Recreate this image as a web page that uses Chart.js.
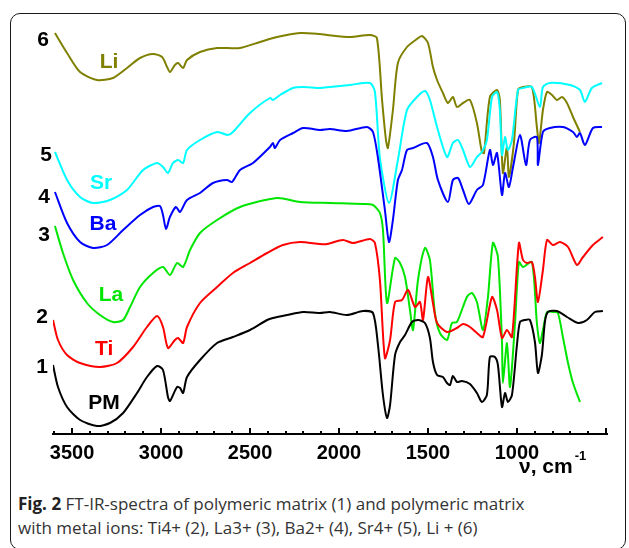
<!DOCTYPE html>
<html>
<head>
<meta charset="utf-8">
<script src="https://cdn.jsdelivr.net/npm/chart.js@4.4.0/dist/chart.umd.min.js"></script>
<style>
  html, body { margin: 0; padding: 0; background: #fff; }
  body { width: 629px; height: 548px; position: relative; overflow: hidden; }
  #frame { position: absolute; left: 10px; top: 13px; width: 616px; height: 537px;
           border: 1.5px solid #1a1a1a; border-radius: 10px; box-sizing: border-box; }
  #wrap { position: absolute; left: 0; top: 0; width: 629px; height: 480px; }
  #caption { position: absolute; left: 18px; top: 492px; font-family: 'Open Sans';
             font-size: 17px; line-height: 24px; color: #333; white-space: nowrap; }
  #caption b { color: #222; }
</style>
</head>
<body>
<div id="frame"></div>
<div id="wrap"><canvas id="myChart" width="629" height="480"></canvas></div>
<div id="caption"><b>Fig. 2</b> FT-IR-spectra of polymeric matrix (1) and polymeric matrix<br>with metal ions: Ti4+ (2), La3+ (3), Ba2+ (4), Sr4+ (5), Li + (6)</div>
<script>
'use strict';

//Wavenumbers (cm-1) and transmittance (curves are stacked, arbitrary units)
var pmWave = [3607, 3579, 3528, 3455, 3360, 3287, 3213, 3135, 3079, 3022, 2989, 2961, 2950, 2910, 2893, 2876, 2854, 2781, 2685, 2596, 2500, 2404, 2371, 2292, 2202, 2107, 2051, 1955, 1865, 1809, 1781, 1753, 1730, 1713, 1685, 1657, 1629, 1590, 1556, 1517, 1489, 1472, 1449, 1416, 1393, 1376, 1360, 1337, 1309, 1264, 1225, 1197, 1169, 1152, 1124, 1107, 1084, 1067, 1051, 1028, 1000, 983, 955, 927, 899, 882, 860, 843, 826, 775, 719, 657, 607, 562, 517];
var pmLevel = [69, 47, 27, 14, 8, 11, 21, 41, 57, 68, 64, 37, 33, 47, 46, 41, 57, 74, 91, 97, 104, 114, 116, 119, 122, 121, 122, 119, 123, 121, 89, 39, 16, 29, 79, 92, 99, 112, 114, 111, 96, 72, 59, 57, 51, 49, 58, 52, 53, 50, 41, 32, 39, 77, 77, 69, 27, 41, 32, 39, 89, 112, 114, 114, 92, 61, 79, 112, 122, 123, 117, 111, 114, 122, 123];

var tiWave = [3607, 3579, 3528, 3455, 3343, 3247, 3157, 3079, 3022, 2989, 2961, 2922, 2904, 2876, 2854, 2781, 2685, 2596, 2500, 2404, 2315, 2219, 2107, 2067, 1978, 1921, 1826, 1798, 1770, 1742, 1713, 1685, 1646, 1612, 1573, 1545, 1528, 1500, 1472, 1449, 1393, 1337, 1303, 1264, 1225, 1191, 1140, 1112, 1084, 1056, 1028, 989, 966, 944, 916, 899, 882, 854, 831, 798, 758, 713, 663, 629, 573, 517];
var tiLevel = [114, 94, 79, 71, 67, 71, 87, 107, 118, 107, 86, 94, 96, 91, 107, 131, 147, 161, 171, 181, 189, 192, 190, 190, 194, 191, 195, 191, 154, 76, 94, 132, 134, 144, 127, 132, 114, 157, 131, 111, 102, 106, 110, 107, 101, 97, 137, 124, 96, 104, 97, 191, 174, 171, 172, 157, 132, 164, 194, 189, 192, 187, 169, 177, 189, 197];

var laWave = [3596, 3551, 3494, 3416, 3343, 3270, 3213, 3174, 3118, 3045, 2989, 2950, 2910, 2876, 2837, 2781, 2685, 2556, 2348, 2219, 2051, 1865, 1809, 1770, 1753, 1730, 1685, 1657, 1629, 1601, 1584, 1556, 1517, 1489, 1461, 1433, 1393, 1365, 1337, 1281, 1253, 1225, 1191, 1163, 1135, 1107, 1084, 1079, 1056, 1039, 1011, 989, 966, 916, 888, 871, 854, 831, 798, 770, 742, 713, 685, 646];
var laLevel = [208, 181, 154, 131, 119, 112, 114, 127, 147, 161, 167, 159, 171, 167, 184, 201, 214, 227, 236, 232, 231, 230, 229, 221, 204, 131, 176, 171, 157, 124, 104, 154, 186, 174, 121, 101, 94, 111, 112, 137, 141, 132, 104, 137, 191, 177, 91, 51, 91, 47, 111, 172, 167, 172, 111, 91, 104, 122, 122, 121, 97, 71, 51, 32];

var baWave = [3596, 3528, 3455, 3382, 3303, 3213, 3118, 3045, 3006, 2989, 2972, 2950, 2916, 2893, 2854, 2781, 2708, 2629, 2601, 2556, 2483, 2388, 2371, 2360, 2331, 2258, 2202, 2107, 2051, 1955, 1843, 1809, 1781, 1742, 1719, 1697, 1669, 1646, 1618, 1584, 1506, 1472, 1444, 1388, 1360, 1331, 1303, 1270, 1225, 1191, 1152, 1135, 1112, 1084, 1067, 1045, 1022, 983, 949, 927, 888, 882, 854, 815, 742, 685, 663, 646, 618, 573, 522];
var baLevel = [242, 211, 192, 186, 189, 204, 219, 227, 228, 219, 205, 217, 227, 222, 234, 241, 251, 254, 252, 264, 271, 287, 291, 286, 294, 301, 306, 304, 305, 303, 307, 302, 276, 224, 192, 214, 254, 264, 284, 286, 291, 277, 254, 232, 254, 256, 244, 230, 244, 249, 284, 269, 281, 239, 261, 247, 267, 299, 269, 294, 297, 269, 302, 306, 307, 302, 297, 301, 289, 306, 307];

var srWave = [3596, 3528, 3455, 3382, 3287, 3191, 3101, 3022, 2989, 2961, 2933, 2904, 2876, 2854, 2781, 2685, 2624, 2596, 2500, 2388, 2371, 2331, 2258, 2202, 2107, 2051, 1938, 1826, 1798, 1770, 1719, 1669, 1618, 1562, 1517, 1489, 1449, 1393, 1360, 1331, 1303, 1264, 1225, 1197, 1169, 1140, 1112, 1096, 1084, 1067, 1051, 1028, 994, 966, 916, 871, 854, 815, 702, 646, 618, 579, 522];
var srLevel = [282, 254, 237, 231, 234, 244, 264, 271, 267, 261, 271, 274, 271, 284, 294, 302, 299, 302, 321, 336, 334, 339, 346, 347, 346, 347, 349, 351, 342, 276, 231, 274, 324, 337, 343, 334, 307, 277, 291, 294, 284, 267, 277, 282, 294, 337, 342, 324, 279, 297, 284, 294, 344, 346, 347, 327, 347, 351, 349, 344, 332, 346, 351];

var liWave = [3596, 3528, 3455, 3360, 3270, 3191, 3118, 3045, 2994, 2966, 2950, 2922, 2904, 2876, 2854, 2781, 2685, 2556, 2444, 2348, 2219, 2107, 2067, 1938, 1826, 1787, 1758, 1736, 1725, 1697, 1669, 1618, 1562, 1534, 1500, 1472, 1449, 1416, 1388, 1360, 1337, 1303, 1264, 1225, 1197, 1185, 1152, 1112, 1096, 1079, 1056, 1045, 1017, 994, 966, 916, 888, 876, 854, 831, 803, 775, 747, 719, 685, 646];
var liLevel = [401, 381, 362, 354, 356, 366, 376, 380, 377, 367, 362, 369, 371, 366, 374, 382, 386, 386, 392, 397, 401, 400, 399, 397, 399, 396, 334, 294, 286, 324, 371, 387, 395, 398, 391, 367, 354, 341, 331, 337, 327, 331, 334, 311, 282, 281, 337, 344, 334, 261, 287, 257, 291, 344, 347, 347, 307, 291, 324, 342, 339, 334, 337, 331, 317, 302];

var seriesNames = ['PM', 'Ti', 'La', 'Ba', 'Sr', 'Li'];
var seriesNumbers = ['1', '2', '3', '4', '5', '6'];
var seriesColors = ['#000000', '#ff0000', '#00e600', '#0000ff', '#00ffff', '#808000'];
var waves = [pmWave, tiWave, laWave, baWave, srWave, liWave];
var levels = [pmLevel, tiLevel, laLevel, baLevel, srLevel, liLevel];
var tickLabels = [1000, 1500, 2000, 2500, 3000, 3500];

//Where the text labels sit, in axis units (wavenumber, level)
var nameAt = [[3320, 31], [3320, 85], [3281, 139], [3326, 210], [3337, 251], [3292, 372]];
var numberAt = [[3668, 67], [3668, 117], [3657, 199], [3657, 237], [3646, 279], [3663, 394]];

function makeDataset(i) {
  var pts = [];
  for (var k = 0; k < waves[i].length; k++) {
    pts.push({ x: waves[i][k], y: levels[i][k] });
  }
  return {
    label: seriesNames[i],
    data: pts,
    borderColor: seriesColors[i],
    backgroundColor: seriesColors[i],
    borderWidth: 2,
    pointRadius: 0,
    tension: 0.25,
    fill: false
  };
}

var datasets = [];
for (var i = 0; i < seriesNames.length; i++) {
  datasets.push(makeDataset(i));
}

//Draws inner tick marks, curve labels and axis title
var overlay = {
  id: 'overlay',
  afterDraw: function(chart) {
    var c = chart.ctx;
    var xs = chart.scales.x;
    var ys = chart.scales.y;
    var base = chart.chartArea.bottom;
    c.save();
    c.strokeStyle = '#000';
    c.lineWidth = 2;
    for (var v = 500; v <= 3600; v += 100) {
      var px = Math.round(xs.getPixelForValue(v));
      var len = (v % 500 === 0) ? 6 : 3;
      c.beginPath();
      c.moveTo(px, base);
      c.lineTo(px, base - len);
      c.stroke();
    }

    c.font = 'bold 21px "Liberation Sans"';
    c.textAlign = 'center';
    c.textBaseline = 'middle';
    for (var j = 0; j < seriesNames.length; j++) {
      c.fillStyle = seriesColors[j];
      c.fillText(seriesNames[j], xs.getPixelForValue(nameAt[j][0]), ys.getPixelForValue(nameAt[j][1]));
      c.fillStyle = '#000';
      c.fillText(seriesNumbers[j], xs.getPixelForValue(numberAt[j][0]), ys.getPixelForValue(numberAt[j][1]));
    }

    //axis title
    c.fillStyle = '#000';
    c.textAlign = 'left';
    c.textBaseline = 'alphabetic';
    c.font = 'bold 21px "Liberation Sans"';
    var tx = 519, ty = 473;
    c.fillText('\u03bd, cm', tx, ty);
    var w = c.measureText('\u03bd, cm').width;
    c.font = 'bold 13px "Liberation Sans"';
    c.fillText('-1', tx + w + 2, ty - 13);
    c.restore();
  }
};

var ctx = document.getElementById('myChart').getContext('2d');
var chart = new Chart(ctx, {
  type: 'line',
  data: { datasets: datasets },
  options: {
    responsive: false,
    animation: false,
    layout: { padding: { left: 53, right: 22, top: 24, bottom: 0 } },
    plugins: {
      legend: { display: false },
      tooltip: { enabled: false }
    },
    scales: {
      x: {
        type: 'linear',
        reverse: true,
        min: 494,
        max: 3607,
        grid: { drawOnChartArea: false, drawTicks: false },
        border: { color: '#000', width: 2 },
        ticks: {
          autoSkip: false,
          maxRotation: 0,
          padding: 7,
          color: '#000',
          font: { family: 'Liberation Sans', size: 20, weight: 'bold' },
          callback: function(v) { return String(v); }
        },
        afterBuildTicks: function(s) {
          s.ticks = tickLabels.map(function(v) { return { value: v }; });
        },
        afterFit: function(s) { s.height = 46; }
      },
      y: { display: false, min: 0, max: 410 }
    }
  },
  plugins: [overlay]
});
</script>
</body>
</html>
